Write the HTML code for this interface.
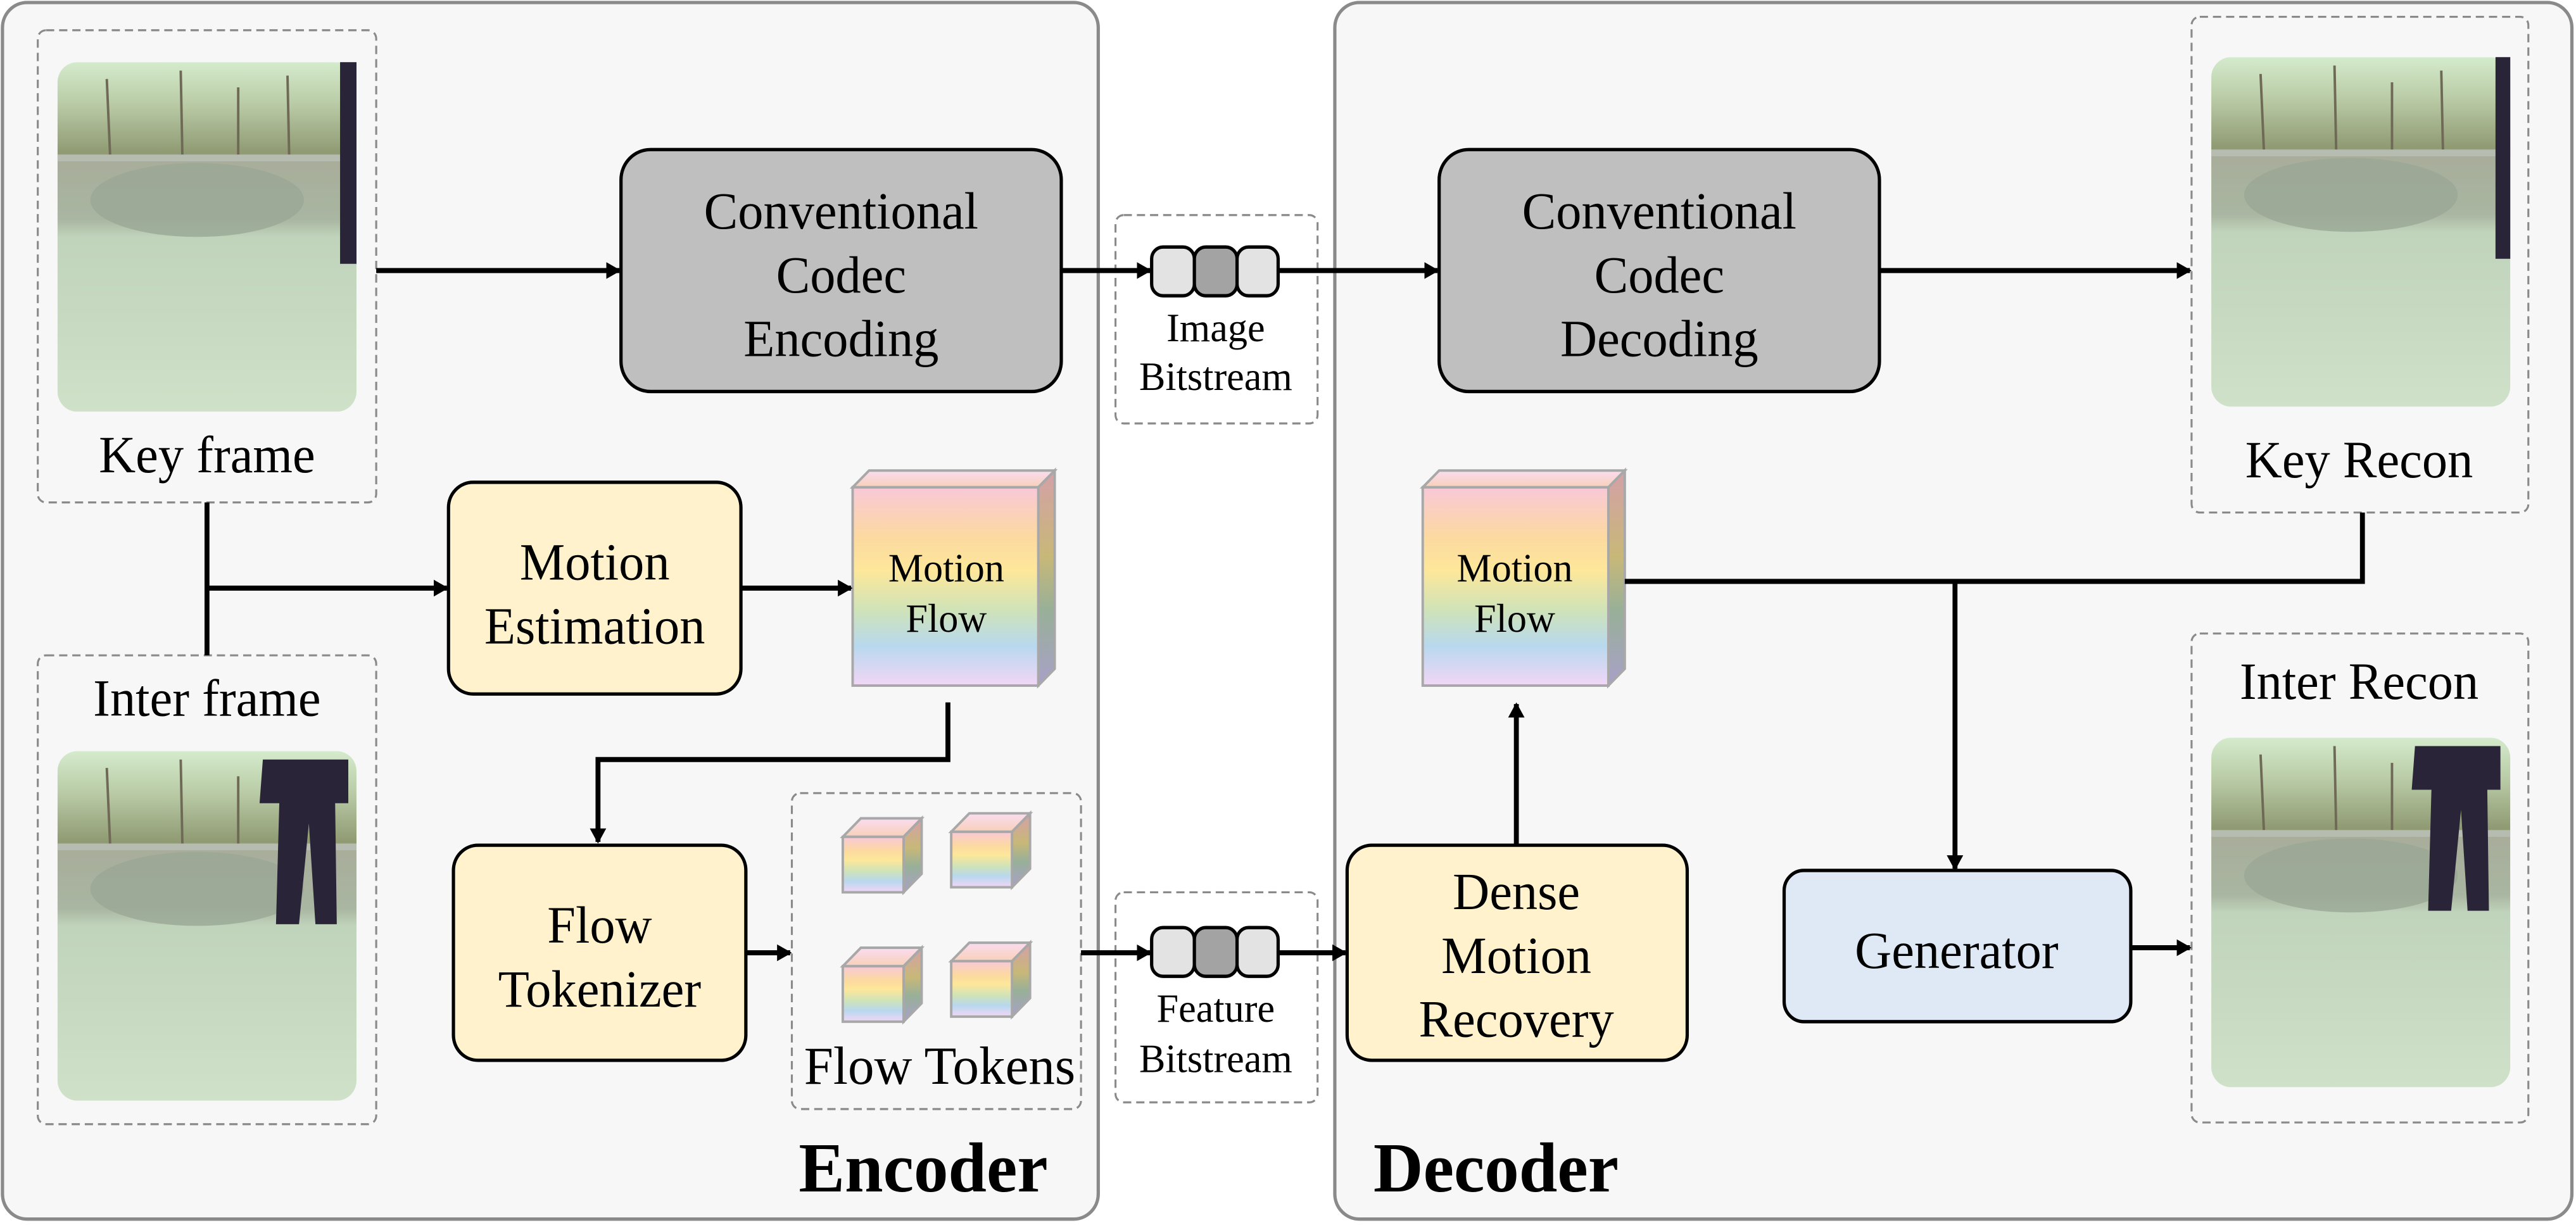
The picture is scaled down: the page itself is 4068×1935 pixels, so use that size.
<!DOCTYPE html>
<html><head><meta charset="utf-8"><style>
html,body{margin:0;padding:0;background:#fff;}
svg{display:block;}
text{font-family:"Liberation Serif","Times New Roman",serif;fill:#000;}
</style></head><body>
<svg width="4068" height="1935" viewBox="0 0 1568 729" preserveAspectRatio="none" xmlns="http://www.w3.org/2000/svg" font-family="Liberation Serif, serif">
<defs>
<linearGradient id="rb" x1="0" y1="0" x2="0" y2="1">
<stop offset="0" stop-color="#f8c8d8"/><stop offset="0.25" stop-color="#fcd9a0"/>
<stop offset="0.42" stop-color="#fde79a"/><stop offset="0.62" stop-color="#cfe3b8"/>
<stop offset="0.8" stop-color="#b8d8ee"/><stop offset="1" stop-color="#f2d6f6"/></linearGradient>
<linearGradient id="rbs" x1="0" y1="0" x2="0" y2="1">
<stop offset="0" stop-color="#d4a0a8"/><stop offset="0.4" stop-color="#c8b878"/>
<stop offset="0.65" stop-color="#98b098"/><stop offset="1" stop-color="#a8a0c8"/></linearGradient>
<linearGradient id="rbt" x1="0" y1="0" x2="0" y2="1">
<stop offset="0" stop-color="#fadcf0"/><stop offset="1" stop-color="#f8d0b8"/></linearGradient>
<linearGradient id="sky" x1="0" y1="0" x2="0" y2="1">
<stop offset="0" stop-color="#d4ebcc"/><stop offset="0.12" stop-color="#b9cba6"/>
<stop offset="0.26" stop-color="#8f9a72"/><stop offset="0.28" stop-color="#a8ad9a"/>
<stop offset="0.45" stop-color="#a9b6a1"/><stop offset="0.5" stop-color="#c0d3bb"/>
<stop offset="1" stop-color="#cfe1c8"/></linearGradient>
<marker id="ah" markerWidth="10" markerHeight="10" refX="8" refY="5" orient="auto" markerUnits="userSpaceOnUse">
<path d="M0,0 L9,5 L0,10 Z" fill="#000"/></marker>
<clipPath id="pc"><rect x="0" y="0" width="182" height="208" rx="12"/></clipPath>
<g id="photo">
<g clip-path="url(#pc)">
<rect x="0" y="0" width="182" height="208" fill="url(#sky)"/>
<ellipse cx="85" cy="82" rx="65" ry="22" fill="#9aa895" opacity="0.8"/>
<g stroke="#6f6a55" stroke-width="1.5">
<line x1="30" y1="10" x2="32" y2="55"/><line x1="75" y1="5" x2="76" y2="55"/>
<line x1="140" y1="8" x2="141" y2="55"/><line x1="110" y1="15" x2="110" y2="55"/>
</g>
<rect x="0" y="55" width="182" height="4" fill="#b7bcb0"/>
</g>
</g>
<g id="cube">
<polygon points="0,11 11,0 48,0 37,11" fill="url(#rbt)" stroke="#a8a8a8" stroke-width="1.5"/>
<polygon points="37,11 48,0 48,33 37,44" fill="url(#rbs)" stroke="#a8a8a8" stroke-width="1.5"/>
<rect x="0" y="11" width="37" height="33" fill="url(#rb)" stroke="#a8a8a8" stroke-width="1.5"/>
</g>
<g id="bigcube">
<polygon points="0,10 10,0 123,0 113,10" fill="url(#rbt)" stroke="#a8a8a8" stroke-width="1.5"/>
<polygon points="113,10 123,0 123,118 113,128" fill="url(#rbs)" stroke="#a8a8a8" stroke-width="1.5"/>
<rect x="0" y="10" width="113" height="118" fill="url(#rb)" stroke="#a8a8a8" stroke-width="1.5"/>
</g>
<g id="pills">
<rect x="0" y="0" width="26" height="29" rx="7" fill="#e3e3e3" stroke="#000" stroke-width="2"/>
<rect x="26" y="0" width="26" height="29" rx="7" fill="#a3a3a3" stroke="#000" stroke-width="2"/>
<rect x="52" y="0" width="25" height="29" rx="7" fill="#e3e3e3" stroke="#000" stroke-width="2"/>
</g>
</defs>
<rect width="1568" height="729" fill="#fff"/>
<rect x="1.5" y="1.5" width="667" height="724" rx="15" fill="#f7f7f7" stroke="#8a8a8a" stroke-width="2"/>
<rect x="812.5" y="1.5" width="753" height="724" rx="15" fill="#f7f7f7" stroke="#8a8a8a" stroke-width="2"/>
<g fill="none" stroke="#8a8a8a" stroke-width="1.2" stroke-dasharray="5,3">
<rect x="23" y="18" width="206" height="281" rx="5"/>
<rect x="23" y="390" width="206" height="279" rx="5"/>
<rect x="679" y="128" width="123" height="124" rx="5"/>
<rect x="679" y="531" width="123" height="125" rx="5"/>
<rect x="482" y="472" width="176" height="188" rx="5"/>
<rect x="1334" y="10" width="205" height="295" rx="5"/>
<rect x="1334" y="377" width="205" height="291" rx="5"/>
</g>
<use href="#photo" x="35" y="37"/>
<use href="#photo" x="35" y="447"/>
<use href="#photo" x="1346" y="34"/>
<use href="#photo" x="1346" y="439"/>
<!-- people silhouettes -->
<rect x="207" y="37" width="10" height="120" fill="#2a2438"/>
<rect x="1519" y="34" width="9" height="120" fill="#2a2438"/>
<path d="M160,452 L212,452 L212,478 L204,478 L205,550 L192,550 L188,490 L182,550 L168,550 L170,478 L158,478 Z" fill="#2a2438"/>
<path d="M1470,444 L1522,444 L1522,470 L1514,470 L1515,542 L1502,542 L1498,482 L1492,542 L1478,542 L1480,470 L1468,470 Z" fill="#2a2438"/>
<text x="126" y="281" font-size="31" text-anchor="middle">Key frame</text>
<text x="126" y="426" font-size="31" text-anchor="middle">Inter frame</text>
<text x="1436" y="284" font-size="31" text-anchor="middle">Key Recon</text>
<text x="1436" y="416" font-size="31" text-anchor="middle">Inter Recon</text>
<rect x="378" y="89" width="268" height="144" rx="18" fill="#bfbfbf" stroke="#000" stroke-width="2"/>
<text font-size="31" text-anchor="middle"><tspan x="512" y="136">Conventional</tspan><tspan x="512" y="174">Codec</tspan><tspan x="512" y="212">Encoding</tspan></text>
<rect x="876" y="89" width="268" height="144" rx="18" fill="#bfbfbf" stroke="#000" stroke-width="2"/>
<text font-size="31" text-anchor="middle"><tspan x="1010" y="136">Conventional</tspan><tspan x="1010" y="174">Codec</tspan><tspan x="1010" y="212">Decoding</tspan></text>
<rect x="273" y="287" width="178" height="126" rx="15" fill="#fff2cc" stroke="#000" stroke-width="2"/>
<text font-size="31" text-anchor="middle"><tspan x="362" y="345">Motion</tspan><tspan x="362" y="383">Estimation</tspan></text>
<rect x="276" y="503" width="178" height="128" rx="15" fill="#fff2cc" stroke="#000" stroke-width="2"/>
<text font-size="31" text-anchor="middle"><tspan x="365" y="561">Flow</tspan><tspan x="365" y="599">Tokenizer</tspan></text>
<rect x="820" y="503" width="207" height="128" rx="15" fill="#fff2cc" stroke="#000" stroke-width="2"/>
<text font-size="31" text-anchor="middle"><tspan x="923" y="541">Dense</tspan><tspan x="923" y="579">Motion</tspan><tspan x="923" y="617">Recovery</tspan></text>
<rect x="1086" y="518" width="211" height="90" rx="12" fill="#dee9f5" stroke="#000" stroke-width="2"/>
<text x="1191" y="576" font-size="31" text-anchor="middle">Generator</text>
<use href="#bigcube" x="519" y="280"/>
<use href="#bigcube" x="866" y="280"/>
<text font-size="24" text-anchor="middle"><tspan x="576" y="346">Motion</tspan><tspan x="576" y="376">Flow</tspan></text>
<text font-size="24" text-anchor="middle"><tspan x="922" y="346">Motion</tspan><tspan x="922" y="376">Flow</tspan></text>
<use href="#cube" x="513" y="487"/>
<use href="#cube" x="579" y="484"/>
<use href="#cube" x="513" y="564"/>
<use href="#cube" x="579" y="561"/>
<text x="572" y="645" font-size="32" text-anchor="middle">Flow Tokens</text>
<use href="#pills" x="701" y="147"/>
<use href="#pills" x="701" y="552"/>
<text font-size="24" text-anchor="middle"><tspan x="740" y="203">Image</tspan><tspan x="740" y="232">Bitstream</tspan></text>
<text font-size="24" text-anchor="middle"><tspan x="740" y="608">Feature</tspan><tspan x="740" y="638">Bitstream</tspan></text>
<g stroke="#000" stroke-width="3" fill="none" marker-end="url(#ah)">
<line x1="229" y1="161" x2="377" y2="161"/>
<line x1="646" y1="161" x2="700" y2="161"/>
<line x1="778" y1="161" x2="875" y2="161"/>
<line x1="1144" y1="161" x2="1333" y2="161"/>
<line x1="126" y1="350" x2="272" y2="350"/>
<line x1="451" y1="350" x2="518" y2="350"/>
<polyline points="577,418 577,452 364,452 364,501"/>
<line x1="454" y1="567" x2="481" y2="567"/>
<line x1="658" y1="567" x2="700" y2="567"/>
<line x1="778" y1="567" x2="819" y2="567"/>
<line x1="923" y1="503" x2="923" y2="419"/>
<line x1="1190" y1="346" x2="1190" y2="517"/>
<line x1="1297" y1="564" x2="1333" y2="564"/>
</g>
<g stroke="#000" stroke-width="3" fill="none">
<line x1="126" y1="299" x2="126" y2="390"/>
<polyline points="989,346 1438,346 1438,305"/>
</g>
<text x="562" y="709" font-size="42" font-weight="bold" text-anchor="middle">Encoder</text>
<text x="836" y="709" font-size="42" font-weight="bold">Decoder</text>
</svg>
</body></html>
